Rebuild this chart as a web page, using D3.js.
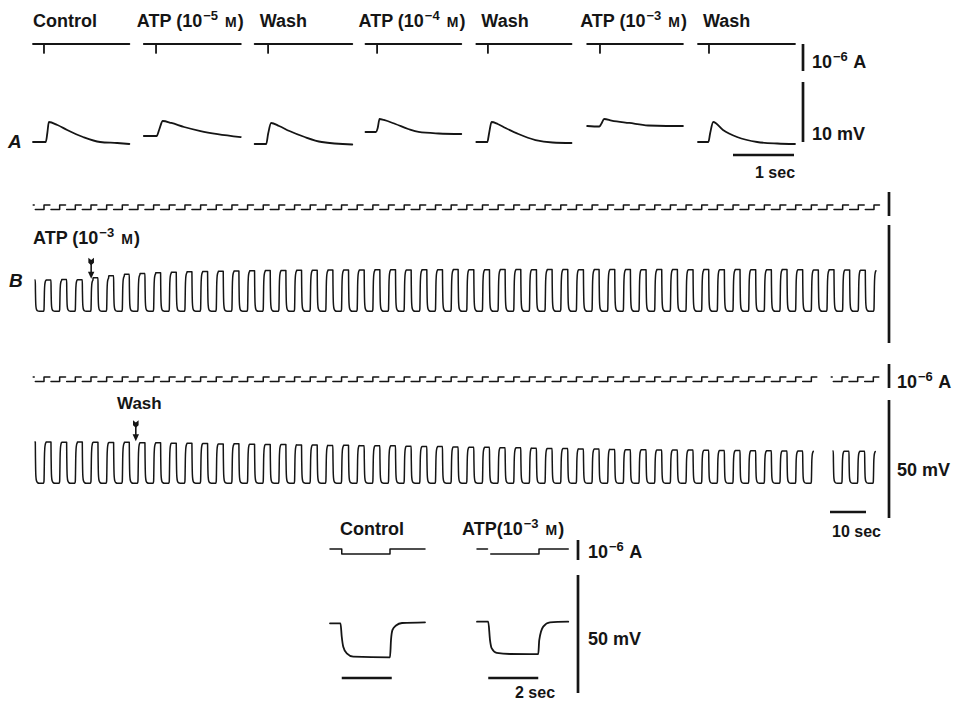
<!DOCTYPE html>
<html>
<head>
<meta charset="utf-8">
<script src="https://cdn.jsdelivr.net/npm/d3@7"></script>
<style>
body { margin: 0; background: #fff; }
text { font-family: "Liberation Sans", Arial, sans-serif; font-weight: bold; fill: #151515; }
.trace { fill: none; stroke: #151515; stroke-width: 1.8; stroke-linejoin: round; stroke-linecap: round; }
.thin { stroke-width: 1.5; }
.bar { stroke: #151515; stroke-width: 2.7; }
</style>
</head>
<body>
<script>
var width = 967;
var height = 701;

// A: seven sweeps. time in s, voltage in mV (0 = control rest), current in uA
var aCond = ["Control", "ATP", "Wash", "ATP", "Wash", "ATP", "Wash"];
var aConc = ["", "5", "", "4", "", "3", ""];
var aPulseT = [0.18, 0.2, 0.22, 0.19, 0.19, 0.21, 0.18];
var aPulseI = -0.33;
var aVolt = [
    [[0, 0], [0.21, 0], [0.235, 1.5], [0.26, 3.33], [0.4, 2.83], [0.56, 2.0], [0.82, 0.83], [1.1, 0], [1.38, -0.17], [1.58, -0.33]],
    [[0, 1], [0.21, 1], [0.25, 2], [0.31, 3.5], [0.45, 3.17], [0.66, 2.5], [0.93, 1.83], [1.21, 1.33], [1.59, 0.83]],
    [[0, -0.33], [0.19, -0.33], [0.22, 1.33], [0.27, 3.17], [0.4, 2.67], [0.57, 1.83], [0.82, 0.83], [1.1, 0], [1.6, -0.42]],
    [[0, 1.67], [0.17, 1.67], [0.2, 2.33], [0.23, 3.83], [0.3, 3.67], [0.49, 3.0], [0.7, 2.17], [0.87, 1.67], [1.2, 1.42], [1.57, 1.33]],
    [[0, 0], [0.18, 0], [0.21, 1.5], [0.25, 3.33], [0.35, 3.0], [0.48, 2.33], [0.69, 1.33], [0.97, 0.33], [1.25, -0.08], [1.56, -0.17]],
    [[0, 2.67], [0.2, 2.58], [0.23, 3.0], [0.28, 3.83], [0.4, 3.58], [0.69, 3.17], [1.0, 2.75], [1.3, 2.67], [1.57, 2.67]],
    [[0, 0], [0.17, 0], [0.2, 1.5], [0.25, 3.33], [0.41, 2.0], [0.64, 0.83], [0.97, 0], [1.3, -0.25], [1.59, -0.33]]
];

// B: trains of hyperpolarizing pulses
var bPeriod = 4.35;
var bStart = 0.29;
// one cycle: [phase, fraction of the way from pulse level to rest]
var bShape = [[0, 1], [0.29, 1], [0.31, 1], [0.318, 0.65], [0.33, 0.35], [0.35, 0.15], [0.39, 0.05], [0.46, 0.01],
              [0.55, 0], [0.84, 0], [0.865, 0.05], [0.877, 0.25], [0.89, 0.6], [0.915, 0.85], [0.95, 0.95], [0.99, 0.99]];
var bPulseOn = 0.31;
var bPulseOff = 0.865;
var bPulseI = -0.19;
var bBottom = -13.2;
var bTops1 = [0, 0, 0.2, 0.1, 1.0, 1.8, 2.4, 2.8, 3.1, 3.3, 3.5, 3.6, 3.7, 3.8, 3.9, 4.0,
              4.0, 4.1, 4.1, 4.2, 4.2, 4.2, 4.3, 4.3, 4.2, 4.3, 4.3, 4.4, 4.3, 4.3, 4.4, 4.4, 4.3, 4.4, 4.4, 4.3,
              4.4, 4.4, 4.4, 4.3, 4.4, 4.4, 4.3, 4.4, 4.3, 4.4, 4.3, 4.3, 4.4, 4.3, 4.2, 4.3, 4.2, 4.1];
var bTops2 = [4.2, 4.2, 4.1, 4.2, 4.1, 4.0, 4.1, 3.9, 3.9, 3.7, 3.7, 3.6, 3.4, 3.5, 3.3, 3.2, 3.2, 3.0, 3.0, 2.8,
              2.9, 2.7, 2.6, 2.6, 2.4, 2.3, 2.3, 2.1, 2.0, 2.0, 1.8, 1.8, 1.6, 1.5, 1.5, 1.3, 1.3, 1.1, 1.0, 1.0,
              0.9, 0.8, 0.8, 0.7, 0.6, 0.6, 0.5, 0.5, 0.4, 0.4];
var bTops3 = [0.4, 0.3, 0.3];
var bAtpT = 15.6;
var bWashT = 28;

// bottom panel: single pulses, control and ATP 10-3 M
var cControlV = [[0, 0], [0.42, 0], [0.47, -5.7], [0.53, -9.9], [0.67, -12.7], [0.93, -14.1], [2.4, -14.4],
                 [2.44, -7.1], [2.5, -2.8], [2.64, -0.93], [2.88, 0.13], [3.8, 0.42]];
var cAtpV = [[0, 0.68], [0.45, 0.68], [0.52, -7.1], [0.59, -10.6], [0.79, -12.5], [1.32, -13.0], [2.45, -13.1],
             [2.49, -7.1], [2.65, -1.4], [2.92, 0.42], [3.65, 0.68]];
var cControlI = [[0, 0], [0.47, 0], [0.47, -0.25], [2.4, -0.25], [2.4, 0], [3.8, 0]];
var cAtpI = [[0, 0], [0.42, 0], null, [0.55, -0.25], [2.48, -0.25], [2.48, 0], [3.65, 0]];

var svg = d3.select("body")
    .append("svg")
    .attr("width", width)
    .attr("height", height);

svg.append("rect").attr("width", width).attr("height", height).style("fill", "#fff");

function addLabel(x, y, pieces, size) {
    var t = svg.append("text").attr("x", x).attr("y", y).style("font-size", size + "px");
    var shift = 0;
    pieces.forEach(function (p) {
        var want = p.sup ? -7 : 0;
        var s = t.append("tspan").text(p.s).attr("dy", want - shift);
        shift = want;
        if (p.dx) s.attr("dx", p.dx);
        if (p.sup) s.style("font-size", "13px");
        if (p.sc) s.style("font-size", "14px");
    });
    return t;
}

function concLabel(x, y, exp, gap) {
    addLabel(x, y, [{s: "ATP" + gap + "(10"}, {s: "\u2212" + exp, sup: true, dx: 1}, {s: " "}, {s: "M", sc: true, dx: 2}, {s: ")", dx: 1}], 18);
}

function ampLabel(x, y) {
    addLabel(x, y, [{s: "10"}, {s: "\u22126", sup: true, dx: 1}, {s: " A", dx: 1}], 18);
}

function vbar(x, y1, y2) {
    svg.append("line").attr("class", "bar").attr("x1", x).attr("x2", x).attr("y1", y1).attr("y2", y2);
}

function hbar(y, x1, x2) {
    svg.append("line").attr("class", "bar").attr("x1", x1).attr("x2", x2).attr("y1", y).attr("y2", y);
}

//PANEL A
var xA = d3.scaleLinear().domain([0, 1]).range([0, 61]);
var yAv = d3.scaleLinear().domain([0, 10]).range([142, 82]);
var yAi = d3.scaleLinear().domain([0, -1]).range([44, 71]);
var sweepX = d3.scaleLinear().domain([0, 6]).range([33, 698]);

var lineA = d3.line()
    .x(function (d) { return xA(d[0]); })
    .y(function (d) { return yAv(d[1]); })
    .curve(d3.curveMonotoneX);

aVolt.forEach(function (pts, i) {
    var x0 = sweepX(i);
    var g = svg.append("g").attr("transform", "translate(" + x0 + ",0)");
    var tEnd = pts[pts.length - 1][0];

    g.append("path")
        .attr("class", "trace")
        .attr("d", d3.line()([[xA(0), yAi(0)], [xA(tEnd), yAi(0)]]));
    g.append("line")
        .attr("class", "trace")
        .attr("x1", xA(aPulseT[i])).attr("x2", xA(aPulseT[i]))
        .attr("y1", yAi(0)).attr("y2", yAi(aPulseI));
    g.append("path")
        .attr("class", "trace")
        .attr("d", lineA(pts));

    if (aCond[i] == "ATP") {
        concLabel(x0 - 7, 27, aConc[i], " ");
    } else {
        addLabel(x0 + (i > 0 ? 5 : 0), 27, [{s: aCond[i]}], 18);
    }
});

vbar(803, yAi(0), yAi(-1));
vbar(803, yAv(10), yAv(0));
hbar(155, 733, 733 + xA(1));
ampLabel(812, 68);
addLabel(812, 140, [{s: "10 mV"}], 18);
addLabel(755, 178, [{s: "1 sec"}], 16);
svg.append("text").attr("x", 8).attr("y", 148).style("font-size", "19px").style("font-style", "italic").text("A");

//PANEL B
var xB = d3.scaleLinear().domain([0, 10]).range([0, 36]);
var yBv = d3.scaleLinear().domain([0, -50]).range([0, 118]);
var yBi = d3.scaleLinear().domain([0, -1]).range([0, 24]);

function voltTrain(tops) {
    var pts = [];
    tops.forEach(function (top, k) {
        bShape.forEach(function (s) {
            if (k == 0 && s[0] < bStart) return;
            pts.push([(k + s[0] - bStart) * bPeriod, bBottom + s[1] * (top - bBottom)]);
        });
    });
    return pts;
}

function currentTrain(n) {
    var pts = [[-0.5, 0]];
    for (var k = 0; k < n; k++) {
        var on = (k + bPulseOn - bStart) * bPeriod;
        var off = (k + bPulseOff - bStart) * bPeriod;
        var next = (k + 1 + bPulseOn - bStart) * bPeriod - 0.3;
        pts.push([on - 0.3, 0], null, [on, bPulseI], [off, bPulseI], [off, 0]);
        pts.push([k == n - 1 ? off + 0.35 * bPeriod : next, 0]);
    }
    return pts;
}

var lineBv = d3.line()
    .x(function (d) { return xB(d[0]); })
    .y(function (d) { return yBv(d[1]); })
    .curve(d3.curveMonotoneX);

var lineBi = d3.line()
    .defined(function (d) { return d !== null; })
    .x(function (d) { return xB(d[0]); })
    .y(function (d) { return yBi(d[1]); });

var bRows = [
    {tops: bTops1, x: 35, vy: 280, iy: 205},
    {tops: bTops2, x: 35, vy: 452, iy: 377},
    {tops: bTops3, x: 833, vy: 452, iy: 377}
];

bRows.forEach(function (r) {
    svg.append("path")
        .attr("class", "trace thin")
        .attr("transform", "translate(" + r.x + "," + r.vy + ")")
        .attr("d", lineBv(voltTrain(r.tops)));
    svg.append("path")
        .attr("class", "trace thin")
        .attr("transform", "translate(" + r.x + "," + r.iy + ")")
        .attr("d", lineBi(currentTrain(r.tops.length)));
});

function arrow(x, yTip) {
    svg.append("path")
        .attr("d", "M" + (x - 2.8) + "," + (yTip - 21) + "l2.8,2.2l2.8,-2.2v5l-2.8,2.5l-2.8,-2.5z")
        .style("fill", "#151515");
    svg.append("line")
        .attr("x1", x).attr("x2", x).attr("y1", yTip - 15).attr("y2", yTip - 6)
        .style("stroke", "#151515").style("stroke-width", 1.6);
    svg.append("path")
        .attr("d", "M" + (x - 3.2) + "," + (yTip - 7) + "h6.4l-3.2,7z")
        .style("fill", "#151515");
}

var atpCycle = Math.floor(bAtpT / bPeriod + bStart);
var washCycle = Math.floor(bWashT / bPeriod + bStart);
arrow(35 + xB(bAtpT), 280 + yBv(bTops1[atpCycle]) - 1);
arrow(35 + xB(bWashT), 452 + yBv(bTops2[washCycle]) - 1);

concLabel(33, 244, "3", " ");
addLabel(117, 409, [{s: "Wash"}], 17);
svg.append("text").attr("x", 9).attr("y", 287).style("font-size", "19px").style("font-style", "italic").text("B");

vbar(889, 192, 192 + yBi(-1));
vbar(889, 225, 225 + yBv(-50));
vbar(889, 364, 364 + yBi(-1));
vbar(889, 400, 400 + yBv(-50));
hbar(512, 830, 830 + xB(10));
ampLabel(897, 388);
addLabel(897, 476, [{s: "50 mV"}], 18);
addLabel(832, 537, [{s: "10 sec"}], 16);

//BOTTOM PANEL
var xC = d3.scaleLinear().domain([0, 1]).range([0, 25]);
var yCv = d3.scaleLinear().domain([0, -50]).range([623.3, 741.3]);
var yCi = d3.scaleLinear().domain([0, -1]).range([549, 569]);

var lineCv = d3.line()
    .x(function (d) { return xC(d[0]); })
    .y(function (d) { return yCv(d[1]); })
    .curve(d3.curveMonotoneX);

var lineCi = d3.line()
    .defined(function (d) { return d !== null; })
    .x(function (d) { return xC(d[0]); })
    .y(function (d) { return yCi(d[1]); });

[[330, cControlV, cControlI, 0.47], [477, cAtpV, cAtpI, 0.45]].forEach(function (c) {
    var g = svg.append("g").attr("transform", "translate(" + c[0] + ",0)");
    g.append("path").attr("class", "trace thin").attr("d", lineCi(c[2]));
    g.append("path").attr("class", "trace").attr("d", lineCv(c[1]));
    g.append("line").attr("class", "bar")
        .attr("x1", xC(c[3])).attr("x2", xC(c[3] + 2))
        .attr("y1", 678).attr("y2", 678);
});

vbar(578, 540, 540 + (yCi(-1) - yCi(0)));
vbar(578, 575, 575 + (yCv(-50) - yCv(0)));
addLabel(340, 535, [{s: "Control"}], 18);
concLabel(462, 535, "3", "");
ampLabel(588, 558);
addLabel(588, 645, [{s: "50 mV"}], 18);
addLabel(515, 698, [{s: "2 sec"}], 16);
</script>
</body>
</html>
